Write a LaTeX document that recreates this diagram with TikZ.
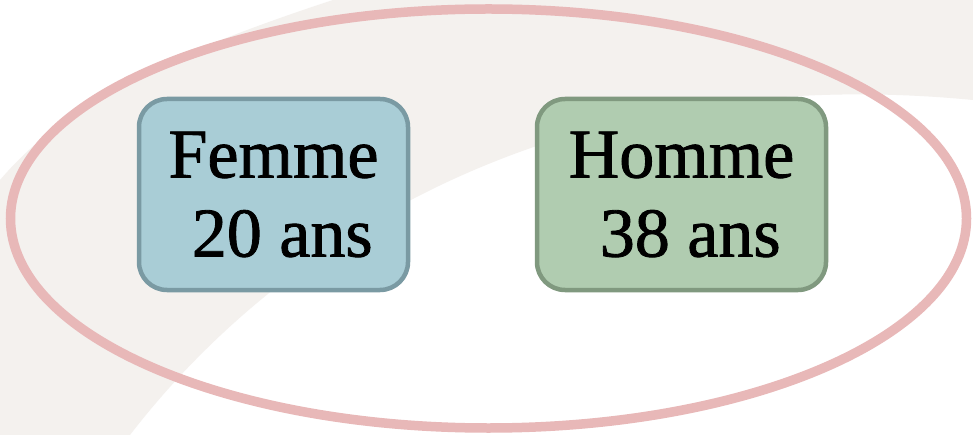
\documentclass[tikz,border=0pt]{standalone}
\usepackage{fontspec}
\setmainfont{Liberation Serif}
\newfontfamily\agefont[FakeBold=1.2]{Liberation Serif}
\usepackage{tikz}
\definecolor{fondbeige}{HTML}{F4F1EE}
\definecolor{anneau}{HTML}{E8B8B8}
\definecolor{bleufill}{HTML}{A9CDD6}
\definecolor{bleudraw}{HTML}{7A9AA3}
\definecolor{vertfill}{HTML}{B0CCB0}
\definecolor{vertdraw}{HTML}{80997F}

\begin{document}
\begin{tikzpicture}[x=1pt,y=-1pt,age node/.style={rectangle,rounded corners=28pt,line width=4.5pt,minimum height=191pt,inner xsep=0pt,align=center,font=\agefont\fontsize{70}{79}\selectfont}]

\useasboundingbox (0,0) rectangle (973,435);
\fill[white] (0,0) rectangle (973,435);
\fill[fondbeige] (333,0) .. controls (150,60) and (60,110) .. (0,180) -- (0,435) -- (130,435)
      .. controls (280,240) and (560,60) .. (973,100) -- (973,0) -- cycle;

\draw[anneau,line width=9.5pt] (488.5,218.5) ellipse [x radius=478pt,y radius=209.5pt];

\node at (273.5,194.5) [age node,fill=bleufill,draw=bleudraw,minimum width=269pt] (femme) {Femme\\~20 ans};
\node at (681.5,194.5) [age node,fill=vertfill,draw=vertdraw,minimum width=289pt] (homme) {Homme\\~38 ans};

\end{tikzpicture}
\end{document}
